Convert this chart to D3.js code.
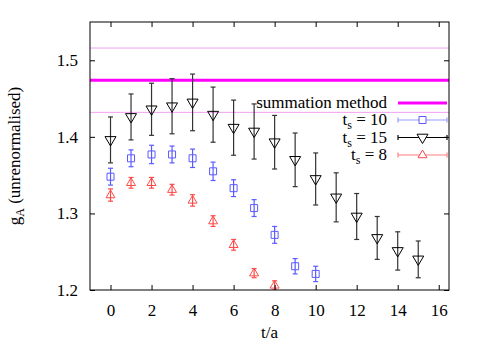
<!DOCTYPE html>
<html>
<head>
<meta charset="utf-8">
<script src="https://cdn.jsdelivr.net/npm/d3@7"></script>
</head>
<body style="margin:0">
<svg id="chart" width="491" height="343" font-family="Liberation Serif"></svg>
<script>
// t/a values for each series
const t15 = [0, 1, 2, 3, 4, 5, 6, 7, 8, 9, 10, 11, 12, 13, 14, 15];
const g15 = [1.396, 1.426, 1.436, 1.440, 1.445, 1.429, 1.412, 1.407, 1.393, 1.370, 1.345, 1.321, 1.296, 1.268, 1.251, 1.240];
const e15 = [0.030, 0.030, 0.034, 0.036, 0.037, 0.036, 0.036, 0.036, 0.035, 0.035, 0.034, 0.032, 0.030, 0.028, 0.025, 0.024];

const t10 = [0, 1, 2, 3, 4, 5, 6, 7, 8, 9, 10];
const g10 = [1.348, 1.372, 1.377, 1.377, 1.372, 1.355, 1.333, 1.307, 1.272, 1.231, 1.221];
const e10 = [0.011, 0.011, 0.012, 0.011, 0.012, 0.012, 0.011, 0.011, 0.011, 0.010, 0.010];

const t8 = [0, 1, 2, 3, 4, 5, 6, 7, 8];
const g8 = [1.324, 1.340, 1.340, 1.331, 1.317, 1.290, 1.259, 1.222, 1.206];
const e8 = [0.008, 0.007, 0.007, 0.007, 0.0075, 0.007, 0.007, 0.006, 0.006];

// summation method: central value and band
const summation = 1.474;
const summationBand = [1.432, 1.516];

const xTicks = [0, 2, 4, 6, 8, 10, 12, 14, 16];
const yTicks = [1.2, 1.3, 1.4, 1.5];

const W = 491, H = 343;
const margin = {top: 22, right: 42, bottom: 53, left: 90};
const width = W - margin.left - margin.right;
const height = H - margin.top - margin.bottom;
const FONT = "Liberation Serif";

const x = d3.scaleLinear().domain([-1, 16.5]).range([0, width]);
const y = d3.scaleLinear().domain([1.2, 1.55]).range([height, 0]);

const svg = d3.select("#chart");

const g = svg.append("g")
    .attr("transform", `translate(${margin.left},${margin.top})`);

g.append("clipPath").attr("id", "clip")
  .append("rect").attr("width", width).attr("height", height);

const plot = g.append("g").attr("clip-path", "url(#clip)");

// summation band and value
summationBand.forEach(v => {
  plot.append("line")
      .attr("x1", 0).attr("x2", width)
      .attr("y1", y(v)).attr("y2", y(v))
      .attr("stroke", "#f0a0f0").attr("stroke-width", 1);
});
plot.append("line")
    .attr("x1", 0).attr("x2", width)
    .attr("y1", y(summation)).attr("y2", y(summation))
    .attr("stroke", "#ff00ff").attr("stroke-width", 3);

// marker shapes
function square(s) {
  return `M${-s},${-s}H${s}V${s}H${-s}Z`;
}
function triDown(s) {
  return `M${-s},${-s * 0.6}H${s}L0,${s * 1.1}Z`;
}
function triUp(s) {
  return `M${-s},${s * 0.6}H${s}L0,${-s * 1.1}Z`;
}

function series(xs, ys, es, color, barColor, shape) {
  const grp = plot.append("g");
  xs.forEach((t, i) => {
    const cx = x(t), top = y(ys[i] + es[i]), bot = y(ys[i] - es[i]);
    grp.append("line").attr("x1", cx).attr("x2", cx)
        .attr("y1", top).attr("y2", bot)
        .attr("stroke", barColor).attr("stroke-width", 1.2);
    [top, bot].forEach(yy => {
      grp.append("line").attr("x1", cx - 2.5).attr("x2", cx + 2.5)
          .attr("y1", yy).attr("y2", yy)
          .attr("stroke", barColor).attr("stroke-width", 1.2);
    });
    grp.append("path")
        .attr("transform", `translate(${cx},${y(ys[i])})`)
        .attr("d", shape)
        .attr("fill", "none")
        .attr("stroke", color).attr("stroke-width", 1);
  });
}

series(t15, g15, e15, "#000", "#333", triDown(5.5));
series(t10, g10, e10, "#5a5aff", "#5a5aff", square(3.5));
series(t8, g8, e8, "#ff4a4a", "#ff4a4a", triUp(4.5));

// axes (ticks inward, mirrored)
const axisStyle = sel => {
  sel.attr("font-size", 17).attr("font-family", FONT);
  sel.select(".domain").remove();
  sel.selectAll("line").attr("stroke", "#000");
  sel.selectAll("text").attr("fill", "#000").attr("font-family", FONT);
};

g.append("g").attr("transform", `translate(0,${height})`)
  .call(d3.axisBottom(x).tickValues(xTicks).tickSize(-5).tickPadding(14).tickFormat(d3.format("d")))
  .call(axisStyle);
g.append("g")
  .call(d3.axisTop(x).tickValues(xTicks).tickSize(-5).tickFormat(""))
  .call(axisStyle);
g.append("g")
  .call(d3.axisLeft(y).tickValues(yTicks).tickSize(-5).tickPadding(12).tickFormat(d3.format(".1f")))
  .call(axisStyle);
g.append("g").attr("transform", `translate(${width},0)`)
  .call(d3.axisRight(y).tickValues(yTicks).tickSize(-5).tickFormat(""))
  .call(axisStyle);

g.append("rect").attr("width", width).attr("height", height)
    .attr("fill", "none").attr("stroke", "#000").attr("stroke-width", 1);

// axis titles
svg.append("text")
    .attr("x", margin.left + width / 2).attr("y", 338)
    .attr("text-anchor", "middle").attr("font-size", 17)
    .attr("font-family", FONT)
    .text("t/a");

const yl = svg.append("text")
    .attr("transform", `translate(20,${margin.top + height / 2}) rotate(-90)`)
    .attr("text-anchor", "middle").attr("font-size", 17)
    .attr("font-family", FONT);
yl.append("tspan").text("g");
yl.append("tspan").attr("font-size", 12).attr("dy", 4).text("A");
yl.append("tspan").attr("dy", -4).text(" (unrenormalised)");

// legend
const legX = 387, sx1 = 398, sx2 = 447;
const legend = [
  {label: "summation method", color: "#ff00ff", y: 103},
  {label: "10", color: "#9a9aff", mk: "#5a5aff", shape: square(3.5), y: 120},
  {label: "15", color: "#000", mk: "#000", shape: triDown(5.5), y: 137.5},
  {label: "8", color: "#ff8080", mk: "#ff4a4a", shape: triUp(4.5), y: 155}
];
legend.forEach((d, i) => {
  const txt = svg.append("text")
      .attr("x", legX).attr("y", d.y + 5)
      .attr("text-anchor", "end").attr("font-size", 17)
      .attr("font-family", FONT);
  if (i === 0) {
    txt.text(d.label);
    svg.append("line").attr("x1", sx1).attr("x2", sx2)
        .attr("y1", d.y).attr("y2", d.y)
        .attr("stroke", d.color).attr("stroke-width", 3);
  } else {
    txt.append("tspan").text("t");
    txt.append("tspan").attr("font-size", 12).attr("dy", 4).text("s");
    txt.append("tspan").attr("dy", -4).text(" = " + d.label);
    svg.append("line").attr("x1", sx1).attr("x2", sx2)
        .attr("y1", d.y).attr("y2", d.y)
        .attr("stroke", d.color).attr("stroke-width", 1.2);
    [sx1, sx2].forEach(xx => {
      svg.append("line").attr("x1", xx).attr("x2", xx)
          .attr("y1", d.y - 2.5).attr("y2", d.y + 2.5)
          .attr("stroke", d.color).attr("stroke-width", 1.2);
    });
    svg.append("path")
        .attr("transform", `translate(${(sx1 + sx2) / 2},${d.y})`)
        .attr("d", d.shape).attr("fill", "#fff")
        .attr("stroke", d.mk).attr("stroke-width", 1);
  }
});
</script>
</body>
</html>
